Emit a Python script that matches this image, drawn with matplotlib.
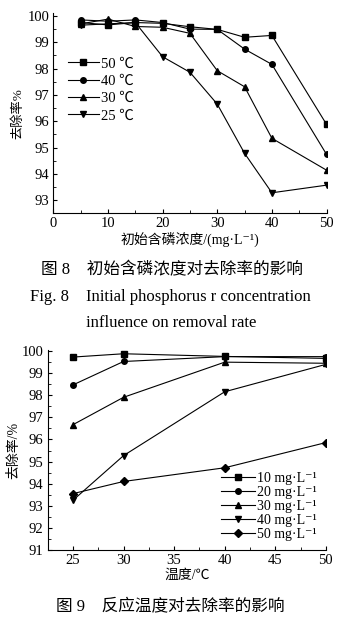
import matplotlib
matplotlib.use("Agg")
import matplotlib.pyplot as plt
from matplotlib.ticker import MultipleLocator

plt.rcParams['font.family'] = ['Liberation Serif', 'Noto Sans CJK SC', 'DejaVu Sans']
plt.rcParams['font.size'] = 10.5

# Fig. 8: removal rate vs initial phosphorus concentration
conc = [5, 10, 15, 20, 25, 30, 35, 40, 50]
r50 = [99.75, 99.66, 99.75, 99.72, 99.59, 99.49, 99.19, 99.26, 95.88]
r40 = [99.85, 99.80, 99.85, 99.75, 99.50, 99.49, 98.74, 98.16, 94.74]
r30 = [99.70, 99.88, 99.60, 99.57, 99.34, 97.92, 97.31, 95.35, 94.14]
r25 = [99.65, 99.70, 99.75, 98.45, 97.86, 96.65, 94.78, 93.28, 93.57]
top_labels = ['50 ℃', '40 ℃', '30 ℃', '25 ℃']

# Fig. 9: removal rate vs temperature
temp = [25, 30, 40, 50]
c10 = [99.73, 99.88, 99.76, 99.67]
c20 = [98.47, 99.53, 99.75, 99.75]
c30 = [96.67, 97.91, 99.50, 99.45]
c40 = [93.25, 95.27, 98.16, 99.40]
c50 = [93.55, 94.10, 94.72, 95.86]
bot_labels = ['10 mg·L⁻¹', '20 mg·L⁻¹', '30 mg·L⁻¹', '40 mg·L⁻¹', '50 mg·L⁻¹']

fig = plt.figure(figsize=(3.43, 6.23), dpi=100)

def style(ax):
    ax.spines['top'].set_visible(False)
    ax.spines['right'].set_visible(False)
    ax.tick_params(which='both', direction='in', labelsize=10.5, pad=3)
    ax.tick_params(which='major', length=3)
    ax.tick_params(which='minor', length=2)

ax1 = fig.add_axes([0.1555, 0.6576, 0.7965, 0.321])
for y, m, lab in zip([r50, r40, r30, r25], ['s', 'o', '^', 'v'], top_labels):
    ax1.plot(conc, y, color='black', lw=0.8, marker=m, ms=4, label=lab)
ax1.set_xlim(0, 50)
ax1.set_ylim(92.5, 100.1)
ax1.xaxis.set_major_locator(MultipleLocator(10))
ax1.xaxis.set_minor_locator(MultipleLocator(5))
ax1.yaxis.set_major_locator(MultipleLocator(1))
ax1.yaxis.set_minor_locator(MultipleLocator(0.5))
style(ax1)
ax1.set_xlabel('初始含磷浓度/(mg·L⁻¹)', fontsize=10, labelpad=1)
ax1.set_ylabel('去除率%', fontsize=9.5, labelpad=2)
ax1.legend(loc='upper left', bbox_to_anchor=(0.198, 0.908), bbox_transform=fig.transFigure,
           frameon=False, fontsize=10.5, handlelength=2.1, handletextpad=0.2,
           labelspacing=0.28, borderpad=0, borderaxespad=0)

fig.text(0.5, 0.567, '图 8　初始含磷浓度对去除率的影响', ha='center', va='center', fontsize=12)
fig.text(0.088, 0.523, 'Fig. 8', ha='left', va='center', fontsize=12)
fig.text(0.251, 0.523, 'Initial phosphorus r concentration', ha='left', va='center', fontsize=12)
fig.text(0.251, 0.481, 'influence on removal rate', ha='left', va='center', fontsize=12)

ax2 = fig.add_axes([0.139, 0.1172, 0.811, 0.321])
for y, m, lab in zip([c10, c20, c30, c40, c50], ['s', 'o', '^', 'v', 'D'], bot_labels):
    ax2.plot(temp, y, color='black', lw=0.8, marker=m, ms=4 if m != 'D' else 3.6, label=lab)
ax2.set_xlim(22.5, 50)
ax2.set_ylim(91, 100.05)
ax2.xaxis.set_major_locator(MultipleLocator(5))
ax2.xaxis.set_minor_locator(MultipleLocator(2.5))
ax2.yaxis.set_major_locator(MultipleLocator(1))
ax2.yaxis.set_minor_locator(MultipleLocator(0.5))
style(ax2)
ax2.set_xlabel('温度/℃', fontsize=10, labelpad=1)
ax2.set_ylabel('去除率/%', fontsize=10, labelpad=1)
ax2.legend(loc='upper left', bbox_to_anchor=(0.645, 0.243), bbox_transform=fig.transFigure,
           frameon=False, fontsize=10, handlelength=2.4, handletextpad=0.15,
           labelspacing=0.08, borderpad=0, borderaxespad=0)

fig.text(0.496, 0.026, '图 9　反应温度对去除率的影响', ha='center', va='center', fontsize=12)

fig.savefig('out.png', dpi=100)
